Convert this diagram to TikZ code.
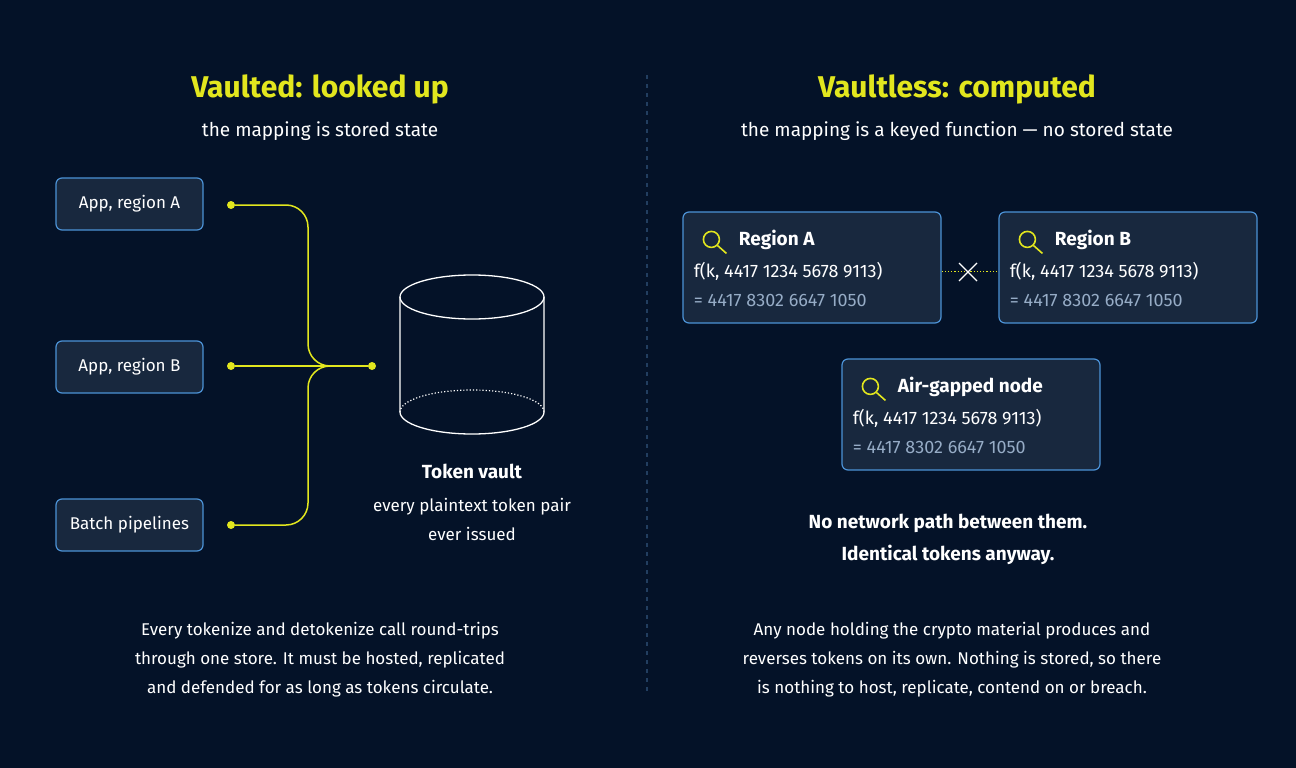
\documentclass[tikz,border=0pt]{standalone}
\usepackage{fontspec}
\setmainfont{Fira Sans}
\usetikzlibrary{positioning}
\definecolor{bg}{RGB}{4,18,40}
\definecolor{boxfill}{RGB}{24,40,62}
\definecolor{boxline}{RGB}{76,146,214}
\definecolor{accent}{RGB}{226,230,30}
\definecolor{dimtext}{RGB}{150,172,198}
\definecolor{divider}{RGB}{34,62,96}
\tikzset{
  title/.style={text=accent, font=\fontsize{30}{34}\selectfont\bfseries},
  subtitle/.style={text=white, font=\fontsize{19}{23}\selectfont},
  body/.style={text=white, align=center, font=\fontsize{17}{29}\selectfont},
  app/.style={draw=boxline, fill=boxfill, rounded corners=6pt, line width=1.2pt,
    minimum width=147pt, minimum height=52pt, text=white, font=\fontsize{17}{20}\selectfont},
  calc/.style={draw=boxline, fill=boxfill, rounded corners=6pt, line width=1.2pt,
    minimum width=258pt, minimum height=111pt},
  link/.style={accent, line width=1.5pt, rounded corners=22pt},
  dot/.style={circle, fill=accent, inner sep=0pt, minimum size=8pt}
}
\newcommand{\lens}[1]{%
  \draw[accent, line width=1.6pt] (#1) circle (8pt);
  \draw[accent, line width=1.6pt] ($(#1)+(6pt,-6pt)$) -- ++(9pt,-8pt);}
\usetikzlibrary{calc}
\begin{document}
\begin{tikzpicture}[x=1pt, y=-1pt]
\fill[bg] (0,0) rectangle (1296,768);
\useasboundingbox (0,0) rectangle (1296,768);
\draw[divider, line width=1.5pt, dash pattern=on 4pt off 5pt] (647,75) -- (647,695);

% left half
\node[title] (ltitle) at (320,89) {Vaulted: looked up};
\node[subtitle] (lsub) at (320,131) {the mapping is stored state};
\node[app] (appa) at (129.5,204) {App, region A};
\node[app] (appb) at (129.5,367) {App, region B};
\node[app] (batch) at (129.5,525) {Batch pipelines};
\node[dot] (da) at (231,205) {};
\node[dot] (db) at (231,366) {};
\node[dot] (dc) at (231,525) {};
\node[dot] (dv) at (372,366) {};
\coordinate (join) at (330,366);
\draw[link] (da) -- (308,205) -- (308,366) -- (join);
\draw[link] (dc) -- (308,525) -- (308,366) -- (join);
\draw[link] (db) -- (dv);
% vault
\draw[white, line width=1.3pt] (400,297) -- (400,412) arc[start angle=180, end angle=360, x radius=72, y radius=-22] -- (544,297);
\draw[white, line width=1.3pt] (472,297) ellipse [x radius=72, y radius=22];
\draw[white, line width=1.2pt, dotted] (400,412) arc[start angle=180, end angle=0, x radius=72, y radius=-22];
\node[text=white, font=\fontsize{19}{23}\selectfont\bfseries] (vault) at (472,471) {Token vault};
\node[body] (vaultnote) at (472,519) {every plaintext token pair\\ever issued};
\node[body] (lnote) at (320,660) {Every tokenize and detokenize call round-trips\\through one store. It must be hosted, replicated\\and defended for as long as tokens circulate.};

% right half
\node[title] (rtitle) at (957,89) {Vaultless: computed};
\node[subtitle] (rsub) at (957,131) {the mapping is a keyed function — no stored state};
\foreach \n/\x/\y/\t in {ra/812/267.5/Region A, rb/1128/267.5/Region B, air/971/414.5/Air-gapped node}{
  \node[calc] (\n) at (\x,\y) {};
  \coordinate (\n i) at ($(\n.north west)+(29,28)$);
  \lens{\n i}
  \node[anchor=west, text=white, font=\fontsize{19}{23}\selectfont\bfseries] (\n h) at ($(\n.north west)+(53,29)$) {\t};
  \node[anchor=west, text=white, font=\fontsize{18}{22}\selectfont] (\n f) at ($(\n.north west)+(8,60)$) {f(k, 4417 1234 5678 9113)};
  \node[anchor=west, text=dimtext, font=\fontsize{18}{22}\selectfont] (\n r) at ($(\n.north west)+(8,89)$) {= 4417 8302 6647 1050};
}
\draw[accent, line width=1.2pt, dotted] (ra.east |- raf) -- (rb.west |- rbf);
\coordinate (cut) at (968,272);
\draw[white, line width=1.3pt] ($(cut)+(-9,-9)$) -- ($(cut)+(9,9)$) ($(cut)+(-9,9)$) -- ($(cut)+(9,-9)$);
\node[text=white, align=center, font=\fontsize{19}{32}\selectfont\bfseries] (rmsg) at (948,539) {No network path between them.\\Identical tokens anyway.};
\node[body] (rnote) at (952,660) {Any node holding the crypto material produces and\\reverses tokens on its own. Nothing is stored, so there\\is nothing to host, replicate, contend on or breach.};
\end{tikzpicture}
\end{document}
